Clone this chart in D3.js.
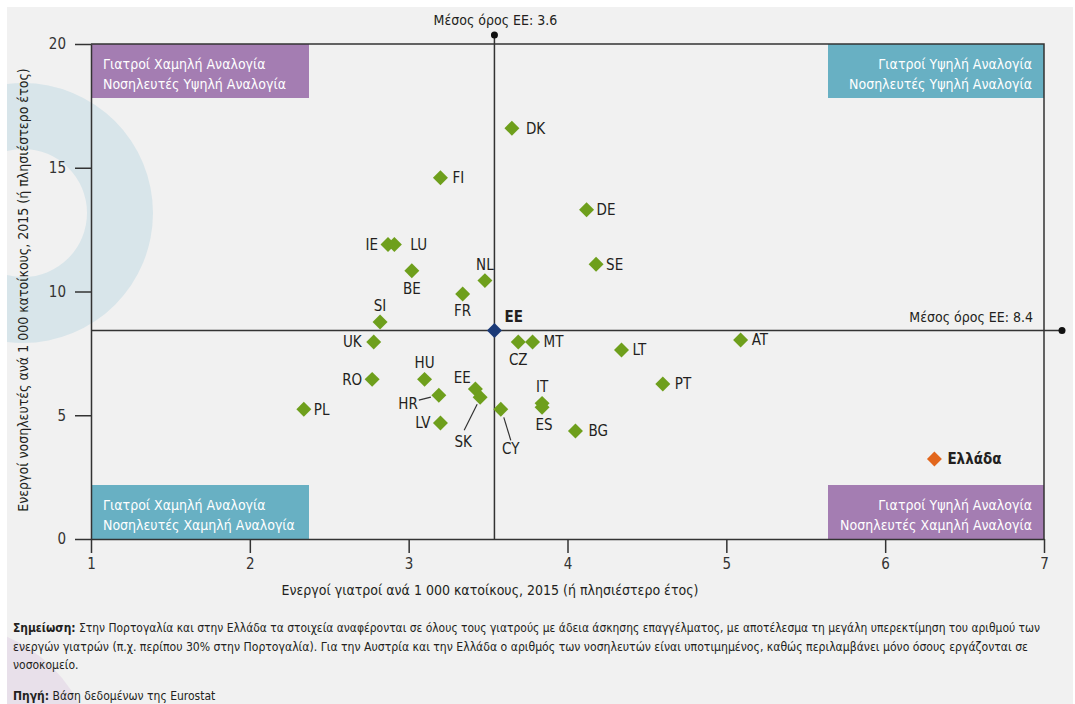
<!DOCTYPE html>
<html lang="el">
<head>
<meta charset="UTF-8">
<title>Γιατροί και νοσηλευτές ανά 1 000 κατοίκους</title>
<script src="https://d3js.org/d3.v7.min.js"></script>
<style>
    body { margin: 0; background: #fff; }
    svg text { font-family: "Liberation Sans Narrow", "DejaVu Sans Condensed", "Roboto", sans-serif; fill: #231f20; }
    .axis text { font-size: 15px; fill: #333; }
    .axis path, .axis line { stroke: #333; stroke-width: 1.5; }
    .lbl { font-size: 15px; }
    .quad { font-size: 14px; fill: #fff; }
    .note { font-size: 12px; }
</style>
</head>
<body>
<svg width="1075" height="704"></svg>
<script>
// Χώρες ΕΕ: ενεργοί γιατροί / νοσηλευτές ανά 1 000 κατοίκους
const countries = ["DK", "FI", "DE", "IE", "LU", "BE", "NL", "FR", "SI", "UK", "CZ", "MT", "LT", "AT",
                   "RO", "HU", "PT", "EE", "SK", "HR", "IT", "ES", "CY", "PL", "LV", "BG", "SE"];
const doctors   = [3.65, 3.20, 4.12, 2.87, 2.91, 3.02, 3.48, 3.34, 2.82, 2.78, 3.69, 3.78, 4.34, 5.09,
                   2.77, 3.10, 4.60, 3.42, 3.45, 3.19, 3.84, 3.84, 3.58, 2.34, 3.20, 4.05, 4.18];
const nurses    = [16.6, 14.6, 13.3, 11.9, 11.9, 10.84, 10.44, 9.9, 8.77, 7.96, 7.96, 7.96, 7.64, 8.04,
                   6.45, 6.45, 6.26, 6.06, 5.73, 5.81, 5.48, 5.32, 5.24, 5.24, 4.69, 4.36, 11.1];

const euAverage = [3.54, 8.42];          // [γιατροί, νοσηλευτές] θέση γραμμών μέσου όρου
const greeceValues = [6.31, 3.23];
const xTicks = [1, 2, 3, 4, 5, 6, 7];
const yTicks = [0, 5, 10, 15, 20];

// θέσεις ετικετών (dx, dy από το σημείο)
const place = {
    DK: { dx: 14 }, FI: { dx: 12 }, DE: { dx: 10 }, IE: { dx: -10, a: "end" }, LU: { dx: 16 },
    BE: { dy: 18, a: "middle" }, NL: { dy: -16, a: "middle" }, FR: { dy: 17, a: "middle" },
    SI: { dy: -16, a: "middle" }, UK: { dx: -12, a: "end" }, CZ: { dy: 18, a: "middle" },
    MT: { dx: 11 }, LT: { dx: 11 }, AT: { dx: 11 }, RO: { dx: -10, a: "end" },
    HU: { dy: -17, a: "middle" }, PT: { dx: 12 }, EE: { dx: -13, dy: -11, a: "middle" },
    SK: { dx: -17, dy: 44, a: "middle", lead: [-3, 7, -16, 33] },
    HR: { dx: -21, dy: 8, a: "end", lead: [-8, 2, -20, 5] },
    IT: { dy: -17, a: "middle" }, ES: { dx: 2, dy: 17, a: "middle" },
    CY: { dx: 10, dy: 39, a: "middle", lead: [3, 8, 10, 31] },
    PL: { dx: 10 }, LV: { dx: -10, a: "end" }, BG: { dx: 13 }, SE: { dx: 10 }
};

const svg = d3.select("svg");
const W = 1075, H = 704;
const plotL = 91, plotR = 1044, plotT = 44, plotB = 539;

const x = d3.scaleLinear().domain([1, 7]).range([plotL, plotR]);
const y = d3.scaleLinear().domain([0, 20]).range([plotB, plotT]);

// φόντο
svg.append("rect").attr("x", 7).attr("y", 7).attr("width", W - 9).attr("height", H - 7).attr("fill", "#f1f1f1");
svg.append("clipPath").attr("id", "bg").append("rect")
    .attr("x", 7).attr("y", 7).attr("width", W - 9).attr("height", H - 7);
const deco = svg.append("g").attr("clip-path", "url(#bg)");
deco.append("path")
    .attr("transform", "translate(23,213)")
    .attr("d", d3.arc()({ innerRadius: 64, outerRadius: 130, startAngle: 0, endAngle: 2 * Math.PI }))
    .attr("fill", "#d8e5ea");
deco.append("circle").attr("cx", -50).attr("cy", 770).attr("r", 145).attr("fill", "#e8e0ea");

// τεταρτημόρια
const purple = "#a47db2", teal = "#68b0c3";
const quads = [
    { x0: plotL, x1: 309, y0: plotT, lines: ["Γιατροί Χαμηλή Αναλογία", "Νοσηλευτές Υψηλή Αναλογία"], c: purple, a: "start" },
    { x0: 828, x1: plotR, y0: plotT, lines: ["Γιατροί Υψηλή Αναλογία", "Νοσηλευτές Υψηλή Αναλογία"], c: teal, a: "end" },
    { x0: plotL, x1: 309, y0: 485, lines: ["Γιατροί Χαμηλή Αναλογία", "Νοσηλευτές Χαμηλή Αναλογία"], c: teal, a: "start" },
    { x0: 828, x1: plotR, y0: 485, lines: ["Γιατροί Υψηλή Αναλογία", "Νοσηλευτές Χαμηλή Αναλογία"], c: purple, a: "end" }
];
quads.forEach(q => {
    svg.append("rect").attr("x", q.x0).attr("y", q.y0).attr("width", q.x1 - q.x0).attr("height", 54).attr("fill", q.c);
    q.lines.forEach((t, i) => {
        svg.append("text").attr("class", "quad")
            .attr("x", q.a === "start" ? q.x0 + 12 : q.x1 - 12)
            .attr("y", q.y0 + 25 + i * 20)
            .attr("text-anchor", q.a).text(t);
    });
});

// πλαίσιο
svg.append("path")
    .attr("d", `M${plotL},${plotT}H${plotR}V${plotB}`)
    .attr("fill", "none").attr("stroke", "#333").attr("stroke-width", 1.5);

// άξονες
svg.append("g").attr("class", "axis")
    .attr("transform", `translate(0,${plotB})`)
    .call(d3.axisBottom(x).tickValues(xTicks).tickFormat(d3.format("d"))
        .tickSize(14).tickSizeOuter(0).tickPadding(5));
svg.append("g").attr("class", "axis")
    .attr("transform", `translate(${plotL},0)`)
    .call(d3.axisLeft(y).tickValues(yTicks).tickSize(16).tickSizeOuter(0).tickPadding(9));

// γραμμές μέσου όρου
const mx = x(euAverage[0]), my = y(euAverage[1]);
svg.append("line").attr("x1", mx).attr("x2", mx).attr("y1", 35).attr("y2", plotB)
    .attr("stroke", "#333").attr("stroke-width", 1.5);
svg.append("line").attr("x1", plotL).attr("x2", 1062).attr("y1", my).attr("y2", my)
    .attr("stroke", "#333").attr("stroke-width", 1.5);
svg.append("circle").attr("cx", mx).attr("cy", 35).attr("r", 3.5).attr("fill", "#111");
svg.append("circle").attr("cx", 1062).attr("cy", my).attr("r", 3.5).attr("fill", "#111");
svg.append("text").attr("class", "lbl").attr("x", mx + 1).attr("y", 25).attr("text-anchor", "middle")
    .style("font-size", "14px").text("Μέσος όρος ΕΕ: 3.6");
svg.append("text").attr("class", "lbl").attr("x", 1033).attr("y", my - 9).attr("text-anchor", "end")
    .style("font-size", "14px").text("Μέσος όρος ΕΕ: 8.4");

// τίτλοι αξόνων
svg.append("text").attr("x", 490).attr("y", 595).attr("text-anchor", "middle").style("font-size", "14px")
    .text("Ενεργοί γιατροί ανά 1 000 κατοίκους, 2015 (ή πλησιέστερο έτος)");
svg.append("text").attr("transform", "translate(28,290) rotate(-90)").attr("text-anchor", "middle")
    .style("font-size", "14px")
    .text("Ενεργοί νοσηλευτές ανά 1 000 κατοίκους, 2015 (ή πλησιέστερο έτος)");

// σημεία
const data = countries.map((c, i) => ({ c, dx: doctors[i], nu: nurses[i] }));
const diamond = d3.symbol(d3.symbolSquare, 112);

data.forEach(d => {
    const p = place[d.c];
    if (p.lead) {
        const px = x(d.dx), py = y(d.nu);
        svg.append("line")
            .attr("x1", px + p.lead[0]).attr("y1", py + p.lead[1])
            .attr("x2", px + p.lead[2]).attr("y2", py + p.lead[3])
            .attr("stroke", "#333").attr("stroke-width", 1.2);
    }
});

svg.selectAll(".pt").data(data).join("path").attr("class", "pt")
    .attr("d", diamond)
    .attr("transform", d => `translate(${x(d.dx)},${y(d.nu)}) rotate(45)`)
    .attr("fill", "#6e9f1c");

svg.selectAll(".cl").data(data).join("text").attr("class", "lbl cl")
    .attr("x", d => x(d.dx) + (place[d.c].dx || 0))
    .attr("y", d => y(d.nu) + (place[d.c].dy || 0))
    .attr("dy", "0.36em")
    .attr("text-anchor", d => place[d.c].a || "start")
    .text(d => d.c);

// ΕΕ
svg.append("path").attr("d", diamond)
    .attr("transform", `translate(${mx},${my}) rotate(45)`).attr("fill", "#1b3a78");
svg.append("text").attr("class", "lbl").attr("x", mx + 10).attr("y", my - 14).attr("dy", "0.36em")
    .style("font-weight", "bold").text("ΕΕ");

// Ελλάδα
svg.append("path").attr("d", diamond)
    .attr("transform", `translate(${x(greeceValues[0])},${y(greeceValues[1])}) rotate(45)`).attr("fill", "#e2661c");
svg.append("text").attr("class", "lbl").attr("x", x(greeceValues[0]) + 13).attr("y", y(greeceValues[1]))
    .attr("dy", "0.36em").style("font-weight", "bold").text("Ελλάδα");

// σημειώσεις
const notes = [
    { y: 632, b: "Σημείωση:", t: " Στην Πορτογαλία και στην Ελλάδα τα στοιχεία αναφέρονται σε όλους τους γιατρούς με άδεια άσκησης επαγγέλματος, με αποτέλεσμα τη μεγάλη υπερεκτίμηση του αριθμού των", w: 1027 },
    { y: 651, b: "", t: "ενεργών γιατρών (π.χ. περίπου 30% στην Πορτογαλία). Για την Αυστρία και την Ελλάδα ο αριθμός των νοσηλευτών είναι υποτιμημένος, καθώς περιλαμβάνει μόνο όσους εργάζονται σε", w: 1015 },
    { y: 669, b: "", t: "νοσοκομείο.", w: 0 },
    { y: 700, b: "Πηγή:", t: " Βάση δεδομένων της Eurostat", w: 0 }
];
notes.forEach(n => {
    const t = svg.append("text").attr("class", "note").attr("x", 13).attr("y", n.y);
    if (n.b) t.append("tspan").style("font-weight", "bold").text(n.b);
    t.append("tspan").text(n.t);
    if (n.w) t.attr("textLength", n.w).attr("lengthAdjust", "spacingAndGlyphs");
});
</script>
</body>
</html>
